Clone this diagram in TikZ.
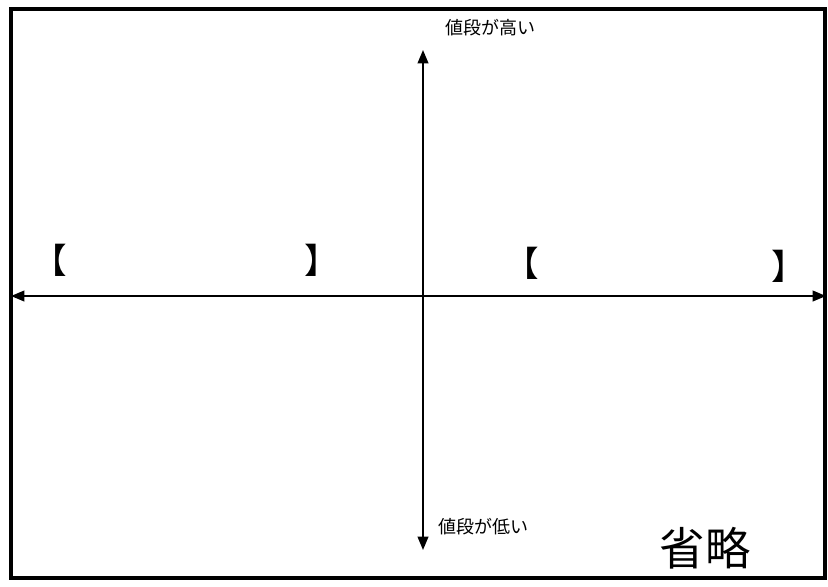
\documentclass[tikz,border=0pt]{standalone}
\usepackage{fontspec}
\newfontfamily\jp{Noto Sans CJK JP}
\usetikzlibrary{arrows.meta}
\usetikzlibrary{positioning}

\begin{document}
\begin{tikzpicture}[x=0.75pt, y=-0.75pt,
    axisarrow/.style={line width=1.4pt, {Triangle[length=10pt,width=8pt]}-{Triangle[length=10pt,width=8pt]}},
    pricelabel/.style={font=\jp\fontsize{13.5}{15}\selectfont, inner sep=0pt, anchor=west},
    bracket/.style={font=\jp\fontsize{26}{28}\selectfont, inner sep=0pt}]
            \useasboundingbox (0,0) rectangle (828,586);

            % outer frame
            \draw[line width=3pt] (11,9) rectangle (825,578);

            % axes
            \coordinate (left) at (11,296);
            \coordinate (right) at (826,296);
            \coordinate (top) at (423,50);
            \coordinate (bottom) at (423,550);
            \draw[axisarrow] (left) -- (right);
            \draw[axisarrow] (bottom) -- (top);

            % price labels
            \node[pricelabel] (high) at (445,28) {値段が高い};
            \node[pricelabel] (low) at (438,527) {値段が低い};

            % empty brackets
            \node[bracket] (lopen) at (50,260) {【};
            \node[bracket] (lclose) at (322,260) {】};
            \node[bracket] (ropen) at (522,263) {【};
            \node[bracket] (rclose) at (789,266) {】};

            % handwritten note
            \node[font=\jp\fontsize{34}{36}\selectfont, inner sep=0pt] (omit) at (705,548) {省略};

\end{tikzpicture}
\end{document}
